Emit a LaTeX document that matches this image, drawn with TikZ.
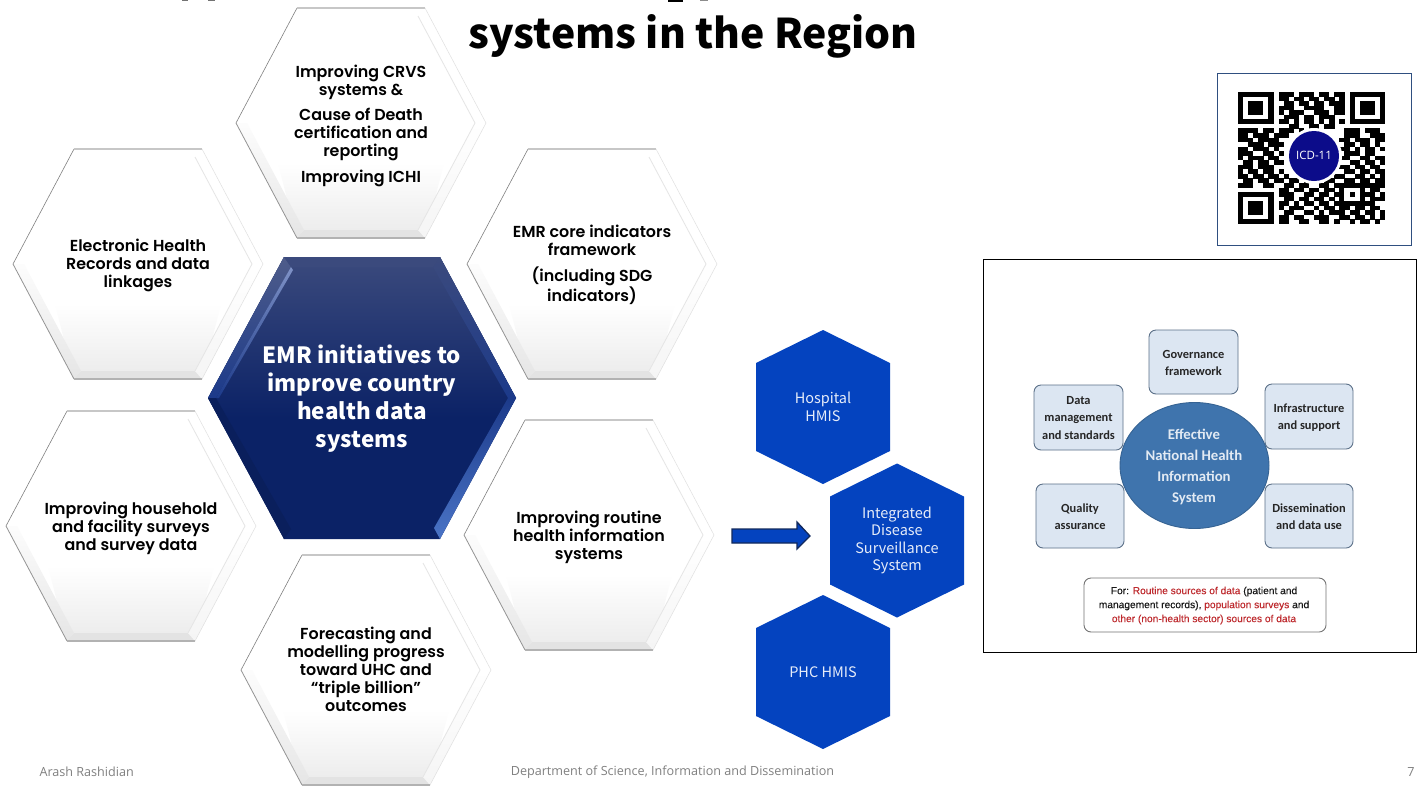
\documentclass[tikz,border=0pt]{standalone}
\usepackage{fontspec}
\setmainfont{Open Sans}
\newfontfamily\gothicfont{Poppins}[BoldFont={Poppins SemiBold}]
\newfontfamily\titlefont{Noto Sans CJK SC}
\newfontfamily\panelfont{Carlito}
\newfontfamily\notefont{Liberation Sans}[FakeBold=0.25]
\usetikzlibrary{calc}
\definecolor{hmisblue}{HTML}{0443BF}
\definecolor{navydark}{HTML}{0B2266}
\definecolor{navytop}{HTML}{3B4A7D}
\definecolor{bevelmid}{HTML}{1C3A8A}
\definecolor{bevelbright}{HTML}{4A74C6}
\definecolor{bevelpale}{HTML}{7F92C6}
\definecolor{arrowline}{HTML}{12295C}
\definecolor{panelfill}{HTML}{DCE6F2}
\definecolor{panelline}{HTML}{5B7088}
\definecolor{hisblue}{HTML}{3F74AD}
\definecolor{notered}{HTML}{BE2A2E}
\definecolor{qrframe}{HTML}{2F4F80}
\definecolor{qrblue}{HTML}{0C0C8A}
\tikzset{
  celltext/.style={align=center, font=\gothicfont\bfseries\fontsize{15.9}{18}\selectfont, text=black},
  hmistext/.style={align=center, font=\titlefont\fontsize{14.5}{17.5}\selectfont, text=white!90!hmisblue},
  panelbox/.style={rounded corners=7, draw=panelline, line width=0.9, fill=panelfill},
  paneltext/.style={align=center, font=\panelfont\bfseries\fontsize{12.4}{17.5}\selectfont, text=black!85},
  foot/.style={font=\fontsize{12.6}{14}\selectfont, text=black!50},
}
\newcommand{\whitecell}[5]{
  \begin{scope}[shift={(#2,#3)}]
    \shade[top color=white, bottom color=black!8] (-83,40)--(83,40)--(64,115)--(-64,115)--cycle;
    \fill[black!11] (-64,115)--(64,115)--(57,107)--(-57,107)--cycle;
    \shade[top color=black!1, bottom color=black!10] (-125,0)--(-64,115)--(-57,107)--(-114,0)--cycle;
    \shade[top color=white, bottom color=black!4] (125,0)--(64,115)--(57,107)--(114,0)--cycle;
    \draw[black!10, line width=0.8] (57,-107)--(114,0)--(57,107);
    \draw[black!50, line width=0.6] (-125,0)--(-64,-115);
    \draw[black!22, line width=1.2] (-64,-115)--(64,-115);
    \draw[black!42, line width=0.8] (-125,0)--(-64,115);
    \draw[black!30, line width=1.2] (-64,115)--(64,115);
    \draw[black!12, line width=0.5] (64,-115)--(125,0)--(64,115);
    \node[celltext] (#1) at (0,#4) {#5};
  \end{scope}
}
\newcommand{\hmishex}[4]{
  \fill[hmisblue] (#2,#3)++(0,-77)--++(67,33)--++(0,88)--++(-67,33)--++(-67,-33)--++(0,-88)--cycle;
  \node[hmistext] (#1) at (#2,#3) {#4};
}
\begin{document}
\begin{tikzpicture}[x=1pt,y=-1pt]
\useasboundingbox (0,0) rectangle (1421,793);
\fill[white] (0,0) rectangle (1421,793);
\fill[black!55] (182,0) rectangle (188,1.2);
\fill[black!55] (208,0) rectangle (215,1.2);
\fill[black] (668,0) rectangle (683,1.6);
\fill[black!45] (700,0) rectangle (708,1.2);
\node[font=\titlefont\bfseries\fontsize{40.9}{46}\selectfont] (title) at (693,36) {systems in the Region};

\whitecell{crvs}{361}{123}{2.5}{Improving CRVS\\systems \&\\[7pt]Cause of Death\\certification and\\reporting\\[8pt]Improving ICHI}
\whitecell{records}{138}{264}{1.5}{Electronic Health\\Records and data\\linkages}
\whitecell{indicators}{592}{264}{1}{EMR core indicators\\framework\\[8pt](including SDG\\indicators)}
\whitecell{surveys}{131}{526}{2.5}{Improving household\\and facility surveys\\and survey data}
\whitecell{routine}{589}{535}{2}{Improving routine\\health information\\systems}
\whitecell{forecast}{366}{670}{-0.5}{Forecasting and\\modelling progress\\toward UHC and\\“triple billion”\\outcomes}

\begin{scope}[shift={(362,398)}]
\fill[navydark] (-154,0)--(-78,-141)--(78,-141)--(154,0)--(78,141)--(-78,141)--cycle;
\shade[top color=navytop, bottom color=navydark] (-154,0)--(-78,-141)--(78,-141)--(154,0)--(143,20)--(-143,20)--cycle;
\shade[top color=navytop!90!white, bottom color=bevelmid] (-154,0)--(-78,-141)--(-71,-131)--(-146,0)--cycle;
\shade[top color=bevelpale, bottom color=bevelmid] (-71,-131)--(-146,0)--(-143,0)--(-69,-128)--cycle;
\shade[top color=navytop, bottom color=bevelmid] (154,0)--(78,-141)--(71,-131)--(146,0)--cycle;
\fill[navydark!90!black] (-154,0)--(-78,141)--(-71,131)--(-146,0)--cycle;
\shade[top color=bevelmid, bottom color=bevelbright] (154,0)--(78,141)--(72,130)--(146,0)--cycle;
\fill[navytop] (-78,-141)--(78,-141)--(71,-131)--(-71,-131)--cycle;
\node[align=center, text=white, font=\titlefont\bfseries\fontsize{22.4}{28}\selectfont] (initiatives) at (0,1) {EMR initiatives to\\improve country\\health data\\systems};
\end{scope}

\draw[fill=hmisblue, draw=arrowline, line width=1.3] (732,529)--(797,529)--(797,522)--(810,536)--(797,549)--(797,543)--(732,543)--cycle;
\hmishex{hospital}{823}{407}{Hospital\\HMIS}
\hmishex{integrated}{897}{540.5}{Integrated\\Disease\\Surveillance\\System}
\hmishex{phc}{823}{672}{PHC HMIS}

\draw[qrframe, line width=0.9] (1217,73) rectangle (1411,245);
\begin{scope}[shift={(1238,92)}, x=5.07pt, y=-4.55pt]
\foreach \c/\r in {0/0,22/0,0/22} {
  \fill[black] (\c,\r) rectangle ++(7,7);
  \fill[white] (\c+1,\r+1) rectangle ++(5,5);
  \fill[black] (\c+2,\r+2) rectangle ++(3,3);
}
\fill[black] (20,20) rectangle ++(5,5);
\fill[white] (21,21) rectangle ++(3,3);
\fill[black] (22,22) rectangle ++(1,1);
\foreach \r/\cells in {
  0/{8,9,10,12,13,14,16,17,19,20},
  1/{8,9,11,12,14,15,17,18,20},
  2/{9,10,12,13,15,16,18,19,20},
  3/{8,9,10,13,14,15,16,19,20},
  4/{8,10,11,12,15,16,17,19,20},
  5/{9,10,11,13,14,16,17,18},
  6/{8,9,11,13,14,16,18,20},
  7/{10,11,14,15,17,18},
  8/{0,1,2,3,5,6,8,9,10,12,14,15,21,22,23,25,26,27},
  9/{0,1,3,4,5,7,8,9,21,22,23,26,27,28},
  10/{0,1,2,4,5,6,7,20,21,23,24,25,27,28},
  11/{2,3,4,6,7,8,21,22,24,25,27},
  12/{0,1,3,4,5,7,20,21,23,25,26,28},
  13/{0,1,2,5,6,8,21,22,23,25,26},
  14/{0,2,3,4,6,7,20,21,24,25,27,28},
  15/{1,2,4,5,7,8,22,23,25,26,28},
  16/{0,1,2,4,5,6,20,21,23,24,26,27},
  17/{0,2,3,5,6,8,21,22,24,25,27,28},
  18/{0,1,3,4,6,7,9,19,20,23,24,26,28},
  19/{1,2,4,5,7,8,10,11,13,14,15,17,18,21,22,24,25,27,28},
  20/{0,1,2,5,6,9,10,12,13,16,17,19,25,26,27,28},
  21/{8,9,11,12,14,15,17,18,26,27},
  22/{8,9,10,13,14,16,17,19,25,26,28},
  23/{9,10,12,13,15,16,18,26,27,28},
  24/{8,9,11,13,14,16,17,19,25,26},
  25/{8,10,11,12,15,17,18,20,21,23,24,26,27},
  26/{9,10,13,14,16,18,19,20,22,23,25,26,28},
  27/{8,9,11,12,15,16,17,20,21,23,24,26,28},
  28/{8,9,12,13,16,17,19,22,24,25,27}} {
  \foreach \c in \cells {
    \fill[black] (\c,\r) rectangle ++(1.03,1.03);
  }
}
\end{scope}
\fill[white] (1314,156) circle (28);
\fill[qrblue] (1314,156) circle (25);
\node[text=white, font=\fontsize{11.5}{13}\selectfont] (qrlabel) at (1314,155) {ICD-11};

\draw[black, line width=0.9] (983,259) rectangle (1416,652);
\draw[panelbox] (1149,330) rectangle (1238,394);
\node[paneltext] (governance) at (1193.5,363) {Governance\\framework};
\draw[panelbox] (1034,385) rectangle (1123,450);
\node[paneltext] (datamgmt) at (1078.5,418) {Data\\management\\and standards};
\draw[panelbox] (1265,384) rectangle (1353,449);
\node[paneltext] (infra) at (1309,417.5) {Infrastructure\\and support};
\draw[panelbox] (1036,484) rectangle (1124,548);
\node[paneltext] (quality) at (1080,516.5) {Quality\\assurance};
\draw[panelbox] (1265,484) rectangle (1353,548);
\node[paneltext] (dissem) at (1309,516.5) {Dissemination\\and data use};
\draw[fill=hisblue, draw=hisblue!85!black, line width=0.9] (1194.5,465.5) ellipse (74.5 and 63);
\node[align=center, text=white!85!hisblue, font=\panelfont\bfseries\fontsize{14.8}{21}\selectfont] (nhis) at (1194,466.5) {Effective\\National Health\\Information\\System};
\draw[rounded corners=7, draw=black!55, line width=0.9, fill=white] (1084,578) rectangle (1326,632);
\node[align=center, font=\notefont\fontsize{10.2}{14}\selectfont, text=black!90] (sources) at (1204,605.5) {For: \textcolor{notered}{Routine sources of data} (patient and\\management records), \textcolor{notered}{population surveys} and\\\textcolor{notered}{other (non-health sector) sources of data}};

\node[foot, anchor=west] (presenter) at (36,772) {Arash Rashidian};
\node[foot] (department) at (672.5,772) {Department of Science, Information and Dissemination};
\node[foot, anchor=east] (pageno) at (1418,772) {7};
\end{tikzpicture}
\end{document}
